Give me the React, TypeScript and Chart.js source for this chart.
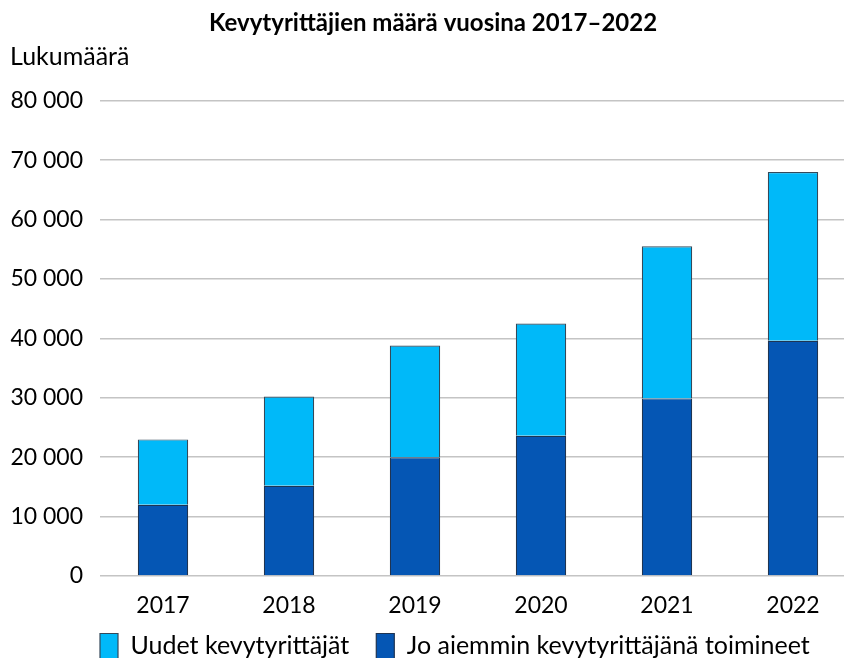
import { useEffect, useRef } from "react";
import { Chart, registerables } from "chart.js";

Chart.register(...registerables);

const years = ["2017", "2018", "2019", "2020", "2021", "2022"];
const previousEntrepreneurs = [12000, 15200, 20000, 23600, 29900, 39600];
const newEntrepreneurs = [11000, 15000, 18800, 18900, 25600, 28400];
const yTicks = [0, 10000, 20000, 30000, 40000, 50000, 60000, 70000, 80000];

const FONT = "Lato, 'Open Sans', sans-serif";
const LEGEND_PAD = 27;
const LEGEND_GAP = 60;

function fmt(v: number) {
  return String(v).replace(/\B(?=(\d{3})+(?!\d))/g, " ");
}

const legendShift = {
  id: "legendShift",
  beforeDraw(chart: any) {
    if (chart.legend && chart.chartArea) {
      chart.legend.left = chart.chartArea.left - LEGEND_PAD;
      chart.legend.top = chart.chartArea.bottom + LEGEND_GAP - LEGEND_PAD - 2.5;
    }
  },
};

export default function App() {
  const ref = useRef<HTMLCanvasElement | null>(null);

  useEffect(() => {
    if (!ref.current) return;
    const chart = new Chart(ref.current, {
      type: "bar",
      data: {
        labels: years,
        datasets: [
          {
            label: "Jo aiemmin kevytyrittäjänä toimineet",
            data: previousEntrepreneurs,
            backgroundColor: "#0556B4",
            borderColor: "#1f3452",
            borderWidth: 1.2,
            barPercentage: 0.4,
            categoryPercentage: 1,
          },
          {
            label: "Uudet kevytyrittäjät",
            data: newEntrepreneurs,
            backgroundColor: "#00B9F9",
            borderColor: "#34495a",
            borderWidth: 1.2,
            barPercentage: 0.4,
            categoryPercentage: 1,
          },
        ],
      },
      plugins: [legendShift],
      options: {
        responsive: false,
        animation: false,
        layout: { padding: { left: 10, right: 0, top: 0, bottom: 0 } },
        plugins: {
          title: {
            display: true,
            text: "Kevytyrittäjien määrä vuosina 2017–2022",
            color: "#000",
            font: { family: FONT, size: 24, weight: "bold" },
            padding: { top: 9, bottom: 0 },
          },
          subtitle: {
            display: true,
            text: "Lukumäärä",
            align: "start",
            color: "#000",
            font: { family: FONT, size: 25 },
            padding: { top: 4, bottom: 29 },
          },
          legend: {
            position: "bottom",
            reverse: true,
            fullSize: true,
            align: "start",
            labels: {
              color: "#000",
              font: { family: FONT, size: 25 },
              boxWidth: 18,
              boxHeight: 25,
              padding: LEGEND_PAD,
            },
          },
          tooltip: { enabled: false },
        },
        scales: {
          x: {
            stacked: true,
            grid: { display: false, drawTicks: false },
            border: { display: false },
            afterFit: (s: any) => {
              s.height = 45;
            },
            ticks: {
              color: "#000",
              font: { family: FONT, size: 23 },
              padding: 16,
            },
          },
          y: {
            stacked: true,
            min: 0,
            max: 80000,
            afterFit: (s: any) => {
              s.width = 90;
            },
            afterBuildTicks: (s: any) => {
              s.ticks = yTicks.map((v) => ({ value: v }));
            },
            grid: { color: "#c4c4c4", lineWidth: 1.5, drawTicks: false },
            border: { display: false },
            ticks: {
              color: "#000",
              font: { family: FONT, size: 23 },
              padding: 17,
              callback: (v: any) => fmt(Number(v)),
            },
          },
        },
      },
    });
    return () => chart.destroy();
  }, []);

  return (
    <div
      style={{
        position: "fixed",
        left: 0,
        top: 0,
        width: 844,
        height: 658,
        overflow: "hidden",
        background: "#fff",
      }}
    >
      <canvas ref={ref} width={856} height={683} style={{ display: "block" }} />
    </div>
  );
}
